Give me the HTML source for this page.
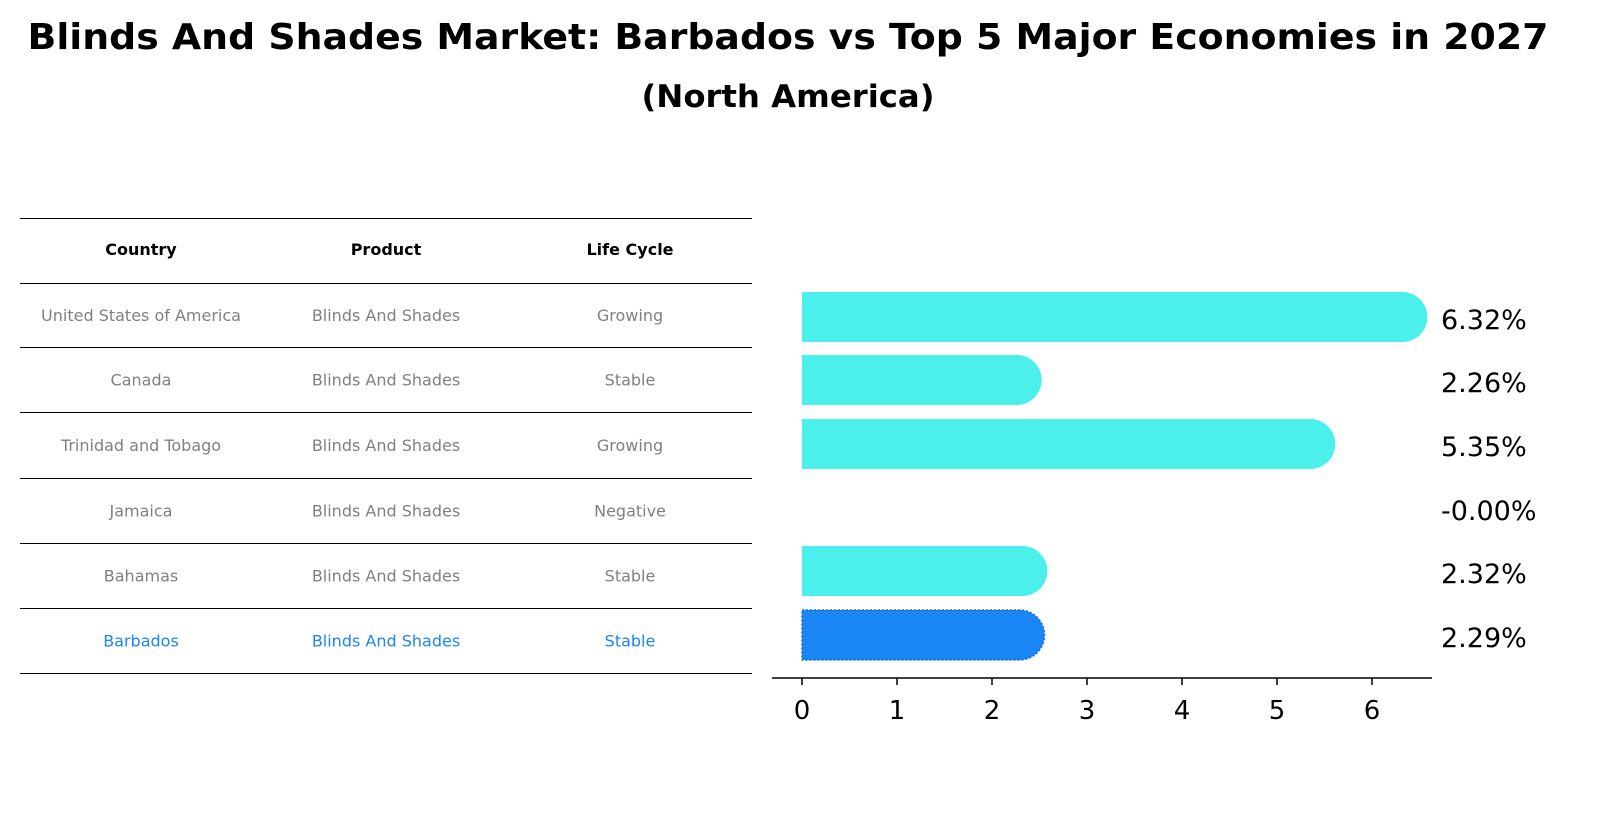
<!DOCTYPE html>
<html><head><meta charset="utf-8"><style>
body{margin:0;background:#fff;font-family:"Liberation Sans","DejaVu Sans",sans-serif;}
</style></head><body>
<svg width="1608" height="823" viewBox="0 0 1608 823" xmlns="http://www.w3.org/2000/svg">
<text x="788" y="49" text-anchor="middle" font-size="36" font-weight="bold" textLength="1521" lengthAdjust="spacingAndGlyphs" font-family="DejaVu Sans, Liberation Sans, sans-serif">Blinds And Shades Market: Barbados vs Top 5 Major Economies in 2027</text>
<text x="788" y="107" text-anchor="middle" font-size="31" font-weight="bold" textLength="293" lengthAdjust="spacingAndGlyphs" font-family="DejaVu Sans, Liberation Sans, sans-serif">(North America)</text>
<g id="table"></g>
<g id="bars"></g>
</svg>
<script>
const countries=["United States of America","Canada","Trinidad and Tobago","Jamaica","Bahamas","Barbados"];
const products=["Blinds And Shades","Blinds And Shades","Blinds And Shades","Blinds And Shades","Blinds And Shades","Blinds And Shades"];
const lifeCycles=["Growing","Stable","Growing","Negative","Stable","Stable"];
const growth=[6.32,2.26,5.35,-0.00,2.32,2.29];
const valueLabels=["6.32%","2.26%","5.35%","-0.00%","2.32%","2.29%"];
const ticks=[0,1,2,3,4,5,6];
const NS="http://www.w3.org/2000/svg";
function mk(tag,attrs,parent){const e=document.createElementNS(NS,tag);for(const k in attrs)e.setAttribute(k,attrs[k]);parent.appendChild(e);return e;}
const tbl=document.getElementById('table');
const rowY=[218,283,347,412,478,543,608,673];
rowY.forEach(y=>{const l=mk('line',{x1:20,x2:752,y1:y+0.5,y2:y+0.5,stroke:'#000','stroke-width':1},tbl);

});
const colX=[141,386,630];
["Country","Product","Life Cycle"].forEach((h,i)=>{const t=mk('text',{x:colX[i],y:255,'text-anchor':'middle','font-size':16,'font-weight':'bold','font-family':'DejaVu Sans, sans-serif'},tbl);t.textContent=h;

});
countries.forEach((c,r)=>{const cy=(rowY[r+1]+rowY[r+2])/2+6;const col=r===countries.length-1?'#1a85f5':'#808080';
[c,products[r],lifeCycles[r]].forEach((v,i)=>{const t=mk('text',{x:colX[i],y:cy,'text-anchor':'middle','font-size':16,fill:col,'font-family':'DejaVu Sans, sans-serif'},tbl);t.textContent=v;

});});
const g=document.getElementById('bars');
const x0=802,ppu=95;const xs=v=>x0+v*ppu;
const rowC=[317,380,444,508,571,635],bh=50,r=25;
growth.forEach((v,i)=>{const cy=rowC[i];const last=i===growth.length-1;const col=last?'#1a85f5':'#4befec';
if(v>0.001){const xe=xs(v);
const p=mk('path',{d:`M${x0},${cy-bh/2} L${xe},${cy-bh/2} A${r},${r} 0 0 1 ${xe},${cy+bh/2} L${x0},${cy+bh/2} Z`,fill:col},g);
if(last){p.setAttribute('stroke','#1570d0');p.setAttribute('stroke-dasharray','2,2');p.setAttribute('stroke-width','1.5');}

}
const t=mk('text',{x:1441,y:cy+12,'font-size':27,'font-family':'DejaVu Sans, sans-serif'},g);t.textContent=valueLabels[i];

});
const ax=mk('line',{x1:772,x2:1432,y1:678,y2:678,stroke:'#000','stroke-width':1.5},g);


ticks.forEach(v=>{const tk=mk('line',{x1:xs(v),x2:xs(v),y1:678,y2:685,stroke:'#000','stroke-width':1.5},g);


const t=mk('text',{x:xs(v),y:719,'text-anchor':'middle','font-size':26,'font-family':'DejaVu Sans, sans-serif'},g);t.textContent=v;

});
</script>
</body></html>
